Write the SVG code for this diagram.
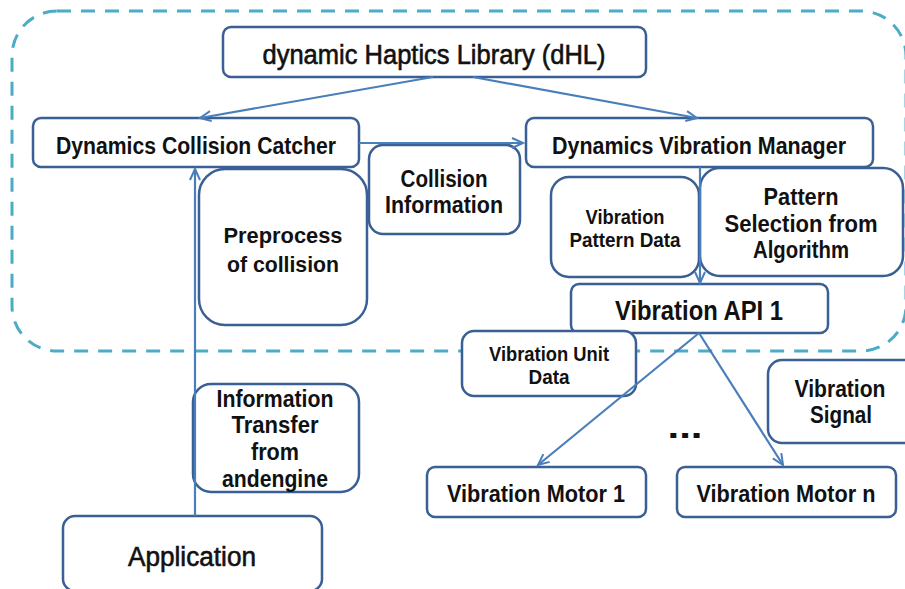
<svg xmlns="http://www.w3.org/2000/svg" width="905" height="589" viewBox="0 0 905 589">
<style>
.bg{fill:#ffffff}
.boundary{fill:none;stroke:#4BACC6;stroke-width:3;stroke-dasharray:14 10}
.box{fill:#ffffff;stroke:#3A5F94;stroke-width:2.5}
.t{font-family:"Liberation Sans",Arial,sans-serif;font-weight:bold;fill:#111111;text-anchor:middle}
.t.n{font-weight:normal;stroke:#111111;stroke-width:0.6}
.conn{fill:none;stroke:#4A7EBB;stroke-width:2.2}
</style>
<defs>
<marker id="arr" markerUnits="userSpaceOnUse" markerWidth="16" markerHeight="16" refX="12" refY="6" orient="auto">
<path d="M1,1 L12,6 L1,11" fill="none" stroke="#4A7EBB" stroke-width="2"/>
</marker>
</defs>
<rect class="bg" x="0" y="0" width="905" height="589"/>
<rect class="boundary" x="12" y="11" width="894" height="340" rx="45" ry="45"/>

<g id="dhl">
<rect class="box" x="223" y="27" width="423" height="50" rx="8"/>
<text class="t n" x="434" y="64" font-size="27" textLength="343" lengthAdjust="spacingAndGlyphs">dynamic Haptics Library (dHL)</text>
</g>
<g id="dcc">
<rect class="box" x="33" y="118" width="326" height="49" rx="8"/>
<text class="t" x="196" y="154" font-size="23" textLength="280" lengthAdjust="spacingAndGlyphs">Dynamics Collision Catcher</text>
</g>
<g id="dvm">
<rect class="box" x="526" y="118" width="347" height="49" rx="8"/>
<text class="t" x="699" y="154" font-size="23" textLength="294" lengthAdjust="spacingAndGlyphs">Dynamics Vibration Manager</text>
</g>
<g id="collision-info">
<rect class="box" x="369" y="145" width="151" height="89" rx="14"/>
<text class="t" x="444" y="187" font-size="23" textLength="87" lengthAdjust="spacingAndGlyphs">Collision</text>
<text class="t" x="444" y="213" font-size="23" textLength="118" lengthAdjust="spacingAndGlyphs">Information</text>
</g>
<g id="preprocess">
<rect class="box" x="199" y="169" width="168" height="156" rx="26"/>
<text class="t" x="283" y="243" font-size="22" textLength="119" lengthAdjust="spacingAndGlyphs">Preprocess</text>
<text class="t" x="283" y="272" font-size="22" textLength="112" lengthAdjust="spacingAndGlyphs">of collision</text>
</g>
<g id="pattern-data">
<rect class="box" x="551" y="177" width="148" height="100" rx="18"/>
<text class="t" x="625" y="224" font-size="20" textLength="79" lengthAdjust="spacingAndGlyphs">Vibration</text>
<text class="t" x="625" y="247" font-size="20" textLength="111" lengthAdjust="spacingAndGlyphs">Pattern Data</text>
</g>
<g id="pattern-selection">
<rect class="box" x="700" y="168" width="203" height="108" rx="20"/>
<text class="t" x="801" y="205" font-size="24" textLength="75" lengthAdjust="spacingAndGlyphs">Pattern</text>
<text class="t" x="801" y="232" font-size="24" textLength="153" lengthAdjust="spacingAndGlyphs">Selection from</text>
<text class="t" x="801" y="258" font-size="24" textLength="96" lengthAdjust="spacingAndGlyphs">Algorithm</text>
</g>
<g id="api">
<rect class="box" x="571" y="284" width="257" height="49" rx="8"/>
<text class="t" x="699" y="320" font-size="27" textLength="168" lengthAdjust="spacingAndGlyphs">Vibration API 1</text>
</g>
<g id="unit-data">
<rect class="box" x="462" y="331" width="174" height="65" rx="12"/>
<text class="t" x="549" y="361" font-size="20" textLength="120" lengthAdjust="spacingAndGlyphs">Vibration Unit</text>
<text class="t" x="549" y="384" font-size="20" textLength="41" lengthAdjust="spacingAndGlyphs">Data</text>
</g>
<g id="vib-signal">
<rect class="box" x="768" y="360" width="150" height="83" rx="14"/>
<text class="t" x="840" y="397" font-size="23" textLength="91" lengthAdjust="spacingAndGlyphs">Vibration</text>
<text class="t" x="841" y="423" font-size="23" textLength="62" lengthAdjust="spacingAndGlyphs">Signal</text>
</g>
<g id="ellipsis">
<text class="t" x="685" y="438" font-size="34" textLength="35" lengthAdjust="spacingAndGlyphs">...</text>
</g>
<g id="motor1">
<rect class="box" x="427" y="467" width="219" height="50" rx="8"/>
<text class="t" x="536" y="502" font-size="23" textLength="178" lengthAdjust="spacingAndGlyphs">Vibration Motor 1</text>
</g>
<g id="motorn">
<rect class="box" x="677" y="467" width="219" height="50" rx="8"/>
<text class="t" x="786" y="502" font-size="23" textLength="179" lengthAdjust="spacingAndGlyphs">Vibration Motor n</text>
</g>
<g id="info-transfer">
<rect class="box" x="193" y="384" width="166" height="108" rx="18"/>
<text class="t" x="275" y="407" font-size="23" textLength="117" lengthAdjust="spacingAndGlyphs">Information</text>
<text class="t" x="275" y="433" font-size="23" textLength="87" lengthAdjust="spacingAndGlyphs">Transfer</text>
<text class="t" x="275" y="460" font-size="23" textLength="48" lengthAdjust="spacingAndGlyphs">from</text>
<text class="t" x="275" y="487" font-size="23" textLength="106" lengthAdjust="spacingAndGlyphs">andengine</text>
</g>
<g id="application">
<rect class="box" x="63" y="516" width="259" height="75" rx="12"/>
<text class="t n" x="192" y="566" font-size="27" textLength="128" lengthAdjust="spacingAndGlyphs">Application</text>
</g>

<g id="connectors">
<path class="conn" d="M433,77 L200,118" marker-end="url(#arr)"/>
<path class="conn" d="M473,77 L697,118" marker-end="url(#arr)"/>
<path class="conn" d="M359,143 L523,143" marker-end="url(#arr)"/>
<path class="conn" d="M195,516 L195,169" marker-end="url(#arr)"/>
<path class="conn" d="M700,167 L700,283" marker-end="url(#arr)"/>
<path class="conn" d="M699,333 L538,465" marker-end="url(#arr)"/>
<path class="conn" d="M699,333 L783,465" marker-end="url(#arr)"/>
</g>
</svg>
